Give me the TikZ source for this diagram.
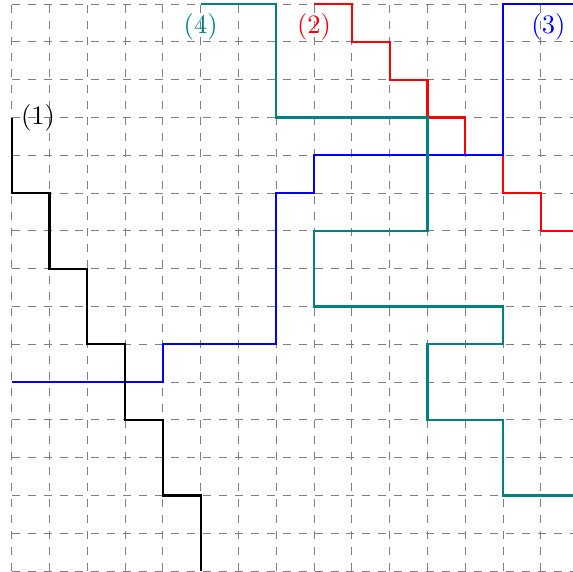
\documentclass[tikz,border=0pt]{standalone}
\begin{document}
\begin{tikzpicture}[x=0.5cm,y=0.5cm,
  route/.style={thick},
  gridline/.style={gray,dashed},
  lbl/.style={inner sep=3.333pt}]
\useasboundingbox (-0.31,-0.01) rectangle (14.85,15.11);
\clip (-0.31,-0.01) rectangle (14.85,15.11);
\draw[gridline,step=0.5cm] (0,0) grid (15,15);
% (2) red
\draw[route,red] (8,15)--(9,15)--(9,14)--(10,14)--(10,13)--(11,13)--(11,12)--(12,12)--(12,11)--(13,11)--(13,10)--(14,10)--(14,9)--(15,9);
% (3) blue
\draw[route,blue] (0,5)--(4,5)--(4,6)--(7,6)--(7,10)--(8,10)--(8,11)--(13,11)--(13,15)--(15,15);
% (4) teal
\draw[route,teal] (5,15)--(7,15)--(7,12)--(11,12)--(11,9)--(8,9)--(8,7)--(13,7)--(13,6)--(11,6)--(11,4)--(13,4)--(13,2)--(15,2);
% (1) black
\draw[route,black] (0,12)--(0,10)--(1,10)--(1,8)--(2,8)--(2,6)--(3,6)--(3,4)--(4,4)--(4,2)--(5,2)--(5,0);
\node[lbl,right] (l1) at (0,12) {(1)};
\node[lbl,below,red] (l2) at (8,15) {(2)};
\node[lbl,below,blue] (l3) at (14.2,15) {(3)};
\node[lbl,below,teal] (l4) at (5,15) {(4)};
\end{tikzpicture}
\end{document}
